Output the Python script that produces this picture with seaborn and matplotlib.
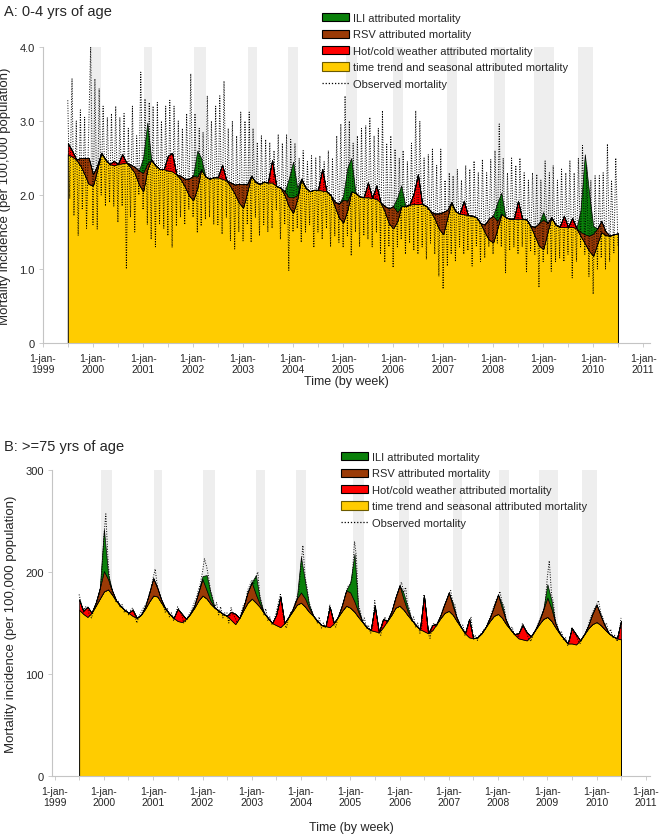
import numpy as np
import pandas as pd
import matplotlib
matplotlib.use("Agg")
import matplotlib.pyplot as plt
from matplotlib.patches import Patch
from matplotlib.lines import Line2D
import seaborn as sns

sns.set_style("white")
plt.rcParams['font.family'] = ['Liberation Sans', 'DejaVu Sans']

# ---------------- time axes ----------------
months = pd.date_range("1999-07-01", "2010-07-01", freq="MS")        # components (monthly)
halfmonths = pd.date_range("1999-07-01", "2010-07-01", freq="SMS")   # observed (semi-monthly)

# ---------------- Panel A: 0-4 yrs (per 100,000) ----------------
a_trend = [
    2.55, 2.52, 2.48, 2.40, 2.28, 2.15, 2.13, 2.35, 2.57, 2.48, 2.42, 2.40,
    2.42, 2.43, 2.44, 2.38, 2.30, 2.15, 2.05, 2.35, 2.48, 2.40, 2.35, 2.35,
    2.33, 2.32, 2.28, 2.22, 2.12, 2.00, 1.93, 2.10, 2.35, 2.25, 2.22, 2.24,
    2.24, 2.22, 2.20, 2.12, 2.02, 1.90, 1.83, 2.05, 2.26, 2.18, 2.15, 2.18,
    2.17, 2.17, 2.12, 2.10, 2.00, 1.85, 1.76, 1.95, 2.22, 2.10, 2.05, 2.07,
    2.07, 2.06, 2.05, 2.00, 1.85, 1.70, 1.63, 1.80, 2.05, 2.03, 1.98, 1.97,
    1.97, 1.96, 1.95, 1.90, 1.78, 1.62, 1.55, 1.65, 1.85, 1.85, 1.87, 1.88,
    1.88, 1.88, 1.85, 1.78, 1.68, 1.55, 1.47, 1.70, 1.90, 1.78, 1.75, 1.74,
    1.73, 1.72, 1.70, 1.62, 1.50, 1.40, 1.36, 1.55, 1.75, 1.70, 1.68, 1.68,
    1.68, 1.68, 1.67, 1.58, 1.45, 1.32, 1.27, 1.50, 1.70, 1.60, 1.57, 1.57,
    1.57, 1.57, 1.55, 1.45, 1.35, 1.25, 1.18, 1.35, 1.50, 1.46, 1.45, 1.47,
    1.48]
a_weather = [
    0.15, 0.08, 0, 0, 0, 0, 0, 0, 0, 0, 0, 0.06,
    0, 0.12, 0, 0, 0, 0, 0, 0, 0, 0, 0, 0,
    0.20, 0.25, 0, 0, 0, 0, 0, 0, 0, 0, 0, 0,
    0, 0.19, 0, 0, 0, 0, 0, 0, 0, 0, 0, 0,
    0, 0.30, 0, 0, 0, 0, 0, 0, 0, 0, 0, 0,
    0, 0.29, 0, 0, 0, 0, 0, 0, 0, 0, 0, 0,
    0.20, 0, 0.18, 0, 0, 0, 0, 0, 0, 0, 0, 0.15,
    0.40, 0, 0, 0, 0, 0, 0, 0, 0, 0, 0, 0.18,
    0, 0, 0, 0, 0, 0, 0, 0, 0, 0, 0, 0,
    0.24, 0, 0, 0, 0, 0, 0, 0, 0, 0, 0, 0.15,
    0, 0.12, 0, 0, 0, 0, 0, 0, 0, 0, 0, 0,
    0]
a_rsv = [
    0, 0, 0, 0.10, 0.22, 0.35, 0.15, 0.05, 0, 0, 0, 0,
    0, 0, 0, 0.03, 0.08, 0.18, 0.25, 0.08, 0, 0, 0, 0,
    0, 0, 0, 0.04, 0.10, 0.22, 0.33, 0.15, 0, 0, 0, 0,
    0, 0, 0, 0.05, 0.12, 0.25, 0.32, 0.10, 0, 0, 0, 0,
    0, 0, 0, 0, 0.05, 0.12, 0.21, 0.05, 0, 0, 0, 0,
    0, 0, 0, 0, 0.06, 0.18, 0.31, 0.12, 0, 0, 0, 0,
    0, 0, 0, 0, 0.07, 0.20, 0.30, 0.12, 0, 0, 0, 0,
    0, 0, 0, 0, 0.07, 0.20, 0.30, 0.10, 0, 0, 0, 0,
    0, 0, 0, 0, 0.10, 0.28, 0.36, 0.10, 0, 0, 0, 0,
    0, 0, 0, 0, 0.12, 0.30, 0.40, 0.12, 0, 0, 0, 0,
    0, 0, 0, 0.05, 0.12, 0.20, 0.30, 0.20, 0.15, 0.05, 0, 0,
    0]
a_ili = [
    0, 0, 0, 0, 0, 0, 0, 0, 0, 0, 0, 0,
    0, 0, 0, 0, 0, 0, 0.20, 0.55, 0, 0, 0, 0,
    0, 0, 0, 0, 0, 0, 0, 0.35, 0.15, 0, 0, 0,
    0, 0, 0, 0, 0, 0, 0, 0, 0, 0, 0, 0,
    0, 0, 0, 0, 0, 0.25, 0.48, 0.10, 0, 0, 0, 0,
    0, 0, 0, 0, 0, 0, 0.05, 0.45, 0.45, 0, 0, 0,
    0, 0, 0, 0, 0, 0, 0, 0.20, 0.28, 0, 0, 0,
    0, 0, 0, 0, 0, 0, 0, 0, 0, 0, 0, 0,
    0, 0, 0, 0, 0, 0, 0, 0.25, 0.28, 0, 0, 0,
    0, 0, 0, 0, 0, 0, 0.10, 0, 0, 0, 0, 0,
    0, 0, 0, 0.30, 1.08, 0.60, 0.10, 0, 0, 0, 0, 0,
    0]
a_observed = [
    3.28, 1.95, 3.57, 1.72, 3.00, 1.45, 3.15, 1.80, 3.05, 1.55, 2.90, 4.00,
    1.60, 3.57, 1.54, 3.44, 2.00, 3.20, 1.85, 3.05, 1.90, 3.10, 1.85, 3.20,
    1.63, 3.05, 1.85, 3.10, 1.00, 2.90, 1.70, 3.20, 1.50, 2.80, 2.00, 3.66,
    1.80, 3.30, 1.60, 3.25, 1.40, 3.20, 1.30, 3.25, 1.60, 3.00, 1.55, 3.20,
    1.45, 3.28, 1.29, 3.20, 1.58, 3.00, 1.70, 2.90, 1.60, 3.10, 1.81, 3.64,
    1.70, 3.10, 1.49, 2.90, 1.58, 2.85, 1.67, 3.34, 1.70, 3.00, 1.60, 3.20,
    1.60, 3.34, 1.47, 3.54, 1.70, 2.90, 1.38, 3.00, 1.27, 2.80, 1.50, 3.12,
    1.38, 3.00, 1.60, 3.12, 1.36, 2.90, 1.70, 2.71, 1.45, 2.80, 1.60, 2.75,
    1.50, 2.71, 1.55, 2.60, 1.80, 2.82, 1.40, 2.70, 1.60, 2.82, 0.98, 2.75,
    1.50, 2.70, 1.55, 2.50, 1.36, 2.60, 1.50, 2.45, 1.60, 2.53, 1.29, 2.50,
    1.50, 2.53, 1.40, 2.45, 1.55, 2.60, 1.30, 2.50, 1.45, 2.80, 1.36, 2.96,
    1.29, 3.34, 1.45, 3.00, 1.18, 2.70, 1.50, 2.80, 1.30, 2.90, 1.45, 2.94,
    1.40, 3.05, 1.30, 2.80, 1.50, 2.90, 1.20, 3.14, 1.09, 2.70, 1.30, 2.80,
    1.02, 2.62, 1.30, 2.50, 1.40, 2.60, 1.20, 2.45, 1.35, 2.70, 1.25, 3.14,
    1.20, 3.00, 1.30, 2.50, 1.13, 2.55, 1.35, 2.62, 1.20, 2.40, 0.90, 2.62,
    0.73, 2.20, 1.04, 2.30, 1.20, 2.26, 1.10, 2.35, 1.30, 2.20, 1.20, 2.40,
    1.25, 2.35, 1.04, 2.46, 1.30, 2.30, 1.10, 2.48, 1.15, 2.30, 1.30, 2.48,
    1.20, 2.60, 1.35, 2.96, 1.30, 2.50, 0.95, 2.30, 1.25, 2.50, 1.30, 2.40,
    1.20, 2.50, 1.30, 2.30, 0.95, 2.20, 1.25, 2.30, 1.20, 2.28, 0.75, 2.20,
    1.10, 2.46, 1.20, 2.30, 0.97, 2.40, 1.10, 2.20, 1.15, 2.35, 1.10, 2.30,
    1.20, 2.46, 0.88, 2.30, 1.10, 2.50, 1.30, 2.67, 1.20, 2.40, 0.90, 2.20,
    0.66, 2.26, 1.00, 2.26, 1.15, 2.30, 1.00, 2.69, 1.10, 2.20, 1.22, 2.50,
    1.30]

# ---------------- Panel B: >=75 yrs (per 100,000) ----------------
b_trend = [
    163, 159, 156, 160, 167, 174, 181, 183, 178, 172, 167, 163,
    160, 157, 155, 158, 164, 171, 177, 176, 170, 164, 159, 155,
    152, 151, 154, 159, 165, 172, 177, 174, 169, 165, 162, 159,
    157, 153, 149, 155, 163, 170, 174, 170, 166, 160, 155, 150,
    148, 146, 150, 156, 162, 168, 170, 166, 161, 157, 152, 148,
    147, 146, 150, 156, 162, 167, 165, 161, 156, 151, 146, 143,
    142, 141, 146, 152, 158, 165, 167, 163, 158, 153, 148, 144,
    142, 140, 143, 149, 155, 160, 162, 158, 152, 146, 140, 136,
    135, 136, 140, 146, 152, 157, 159, 155, 149, 144, 139, 135,
    134, 133, 137, 143, 149, 154, 156, 152, 146, 140, 135, 130,
    130, 129, 133, 139, 145, 149, 151, 148, 144, 140, 137, 135,
    134]
b_weather = [
    10, 3, 10, 0, 0, 0, 0, 0, 0, 0, 0, 0,
    0, 6, 0, 0, 0, 0, 0, 0, 0, 0, 0, 0,
    12, 8, 0, 0, 0, 0, 0, 0, 0, 0, 0, 0,
    0, 8, 10, 0, 0, 0, 0, 0, 0, 0, 0, 0,
    10, 30, 0, 0, 0, 0, 0, 0, 0, 0, 0, 0,
    0, 20, 0, 0, 0, 0, 0, 0, 0, 0, 0, 0,
    25, 0, 8, 0, 0, 0, 0, 0, 0, 0, 0, 0,
    35, 0, 5, 0, 0, 0, 0, 0, 0, 0, 0, 18,
    0, 0, 0, 0, 0, 0, 0, 0, 0, 0, 0, 5,
    14, 8, 0, 0, 0, 0, 0, 0, 0, 0, 0, 0,
    15, 10, 0, 0, 0, 0, 0, 0, 0, 0, 0, 0,
    18]
b_rsv = [
    0, 0, 0, 0, 3, 10, 20, 10, 4, 0, 0, 0,
    0, 0, 0, 0, 2, 8, 17, 8, 3, 0, 0, 0,
    0, 0, 0, 0, 2, 8, 16, 8, 3, 0, 0, 0,
    0, 0, 0, 0, 3, 10, 16, 8, 3, 0, 0, 0,
    0, 0, 0, 0, 2, 6, 10, 8, 4, 0, 0, 0,
    0, 0, 0, 0, 6, 15, 15, 10, 5, 0, 0, 0,
    0, 0, 0, 0, 3, 10, 20, 10, 4, 0, 0, 0,
    0, 0, 0, 0, 3, 9, 18, 8, 3, 0, 0, 0,
    0, 0, 0, 0, 3, 9, 19, 9, 3, 0, 0, 0,
    0, 0, 0, 0, 3, 9, 19, 12, 4, 0, 0, 0,
    0, 0, 0, 0, 3, 10, 17, 9, 4, 0, 0, 0,
    0]
b_ili = [
    0, 0, 0, 0, 0, 0, 41, 5, 0, 0, 0, 0,
    0, 0, 0, 0, 0, 0, 0, 0, 0, 0, 0, 0,
    0, 0, 0, 0, 0, 0, 3, 15, 8, 0, 0, 0,
    0, 0, 0, 0, 0, 0, 0, 19, 5, 0, 0, 0,
    0, 0, 0, 0, 0, 0, 35, 16, 3, 0, 0, 0,
    0, 0, 0, 0, 0, 0, 10, 47, 3, 0, 0, 0,
    0, 0, 0, 0, 0, 0, 0, 6, 4, 0, 0, 0,
    0, 0, 0, 0, 0, 0, 0, 3, 0, 0, 0, 0,
    0, 0, 0, 0, 0, 0, 0, 4, 0, 0, 0, 0,
    0, 0, 0, 0, 0, 0, 13, 8, 0, 0, 0, 0,
    0, 0, 0, 0, 0, 0, 0, 0, 0, 0, 0, 0,
    0]
b_observed = [
    178, 170, 160, 166, 165, 158, 155, 162, 168, 172, 180, 195,
    235, 257, 210, 188, 180, 176, 170, 172, 165, 168, 160, 163,
    158, 162, 165, 158, 150, 156, 160, 164, 167, 170, 178, 184,
    195, 203, 185, 180, 172, 168, 160, 165, 156, 160, 152, 158,
    166, 162, 158, 150, 152, 156, 160, 164, 170, 174, 182, 188,
    200, 213, 205, 195, 182, 176, 165, 170, 158, 166, 155, 160,
    160, 150, 165, 158, 155, 150, 155, 160, 168, 170, 182, 186,
    192, 188, 195, 200, 178, 170, 158, 164, 152, 156, 148, 152,
    160, 168, 178, 165, 148, 145, 155, 160, 162, 168, 175, 180,
    205, 226, 195, 185, 170, 165, 158, 155, 150, 156, 145, 150,
    145, 150, 168, 160, 148, 146, 155, 160, 165, 172, 180, 186,
    188, 195, 230, 215, 168, 162, 150, 155, 145, 148, 140, 145,
    172, 158, 140, 138, 152, 156, 150, 156, 160, 165, 172, 178,
    185, 190, 180, 185, 168, 164, 152, 156, 146, 150, 140, 146,
    178, 165, 140, 135, 148, 150, 146, 152, 156, 162, 168, 172,
    178, 182, 170, 168, 156, 152, 145, 148, 138, 142, 150, 156,
    135, 138, 133, 138, 140, 143, 145, 150, 155, 160, 166, 172,
    176, 181, 170, 166, 154, 150, 144, 146, 138, 140, 136, 142,
    150, 145, 140, 135, 132, 138, 142, 146, 152, 156, 162, 168,
    195, 211, 178, 170, 152, 148, 140, 142, 133, 136, 128, 132,
    146, 140, 138, 133, 130, 135, 138, 142, 148, 154, 160, 164,
    168, 172, 160, 156, 148, 150, 140, 144, 136, 138, 132, 136,
    155]

# influenza epidemic periods (grey shading)
epi_start = ["1999-12-10", "2001-01-05", "2002-01-05", "2003-02-05", "2003-11-25",
             "2005-01-20", "2005-12-28", "2007-02-01", "2008-01-10", "2008-10-28",
             "2009-09-15"]
epi_end = ["2000-03-01", "2001-03-10", "2002-04-05", "2003-04-10", "2004-02-05",
           "2005-04-10", "2006-03-15", "2007-04-10", "2008-03-25", "2009-03-20",
           "2010-01-01"]

years = list(range(1999, 2012))
tick_labels = [f"1-jan-\n{y}" for y in years]

legend_labels = ["ILI attributed mortality", "RSV attributed mortality",
                 "Hot/cold weather attributed mortality",
                 "time trend and seasonal attributed mortality",
                 "Observed mortality"]

C_ILI = "#0a800a"
C_RSV = "#9a3a06"
C_HOT = "#ff0000"
C_TREND = "#ffcc00"
C_BAND = "#eeeeee"
C_SPINE = "#c4c4c4"

W, H = 662, 837
fig = plt.figure(figsize=(W / 100, H / 100), dpi=100)


def fr(x0, y_top, x1, y_bot):
    return [x0 / W, 1 - y_bot / H, (x1 - x0) / W, (y_bot - y_top) / H]


def panel(ax, trend, weather, rsv, ili, observed, xlim, ylim, yticks, ytl):
    trend = np.asarray(trend, float)
    t1 = trend + np.asarray(weather, float)
    t2 = t1 + np.asarray(rsv, float)
    t3 = t2 + np.asarray(ili, float)
    for s, e in zip(epi_start, epi_end):
        ax.axvspan(pd.Timestamp(s), pd.Timestamp(e), color=C_BAND, lw=0, zorder=0)
    ax.fill_between(months, 0, trend, facecolor=C_TREND, edgecolor="black", lw=0.7, zorder=2)
    ax.fill_between(months, trend, t1, facecolor=C_HOT, edgecolor="black", lw=0.5, zorder=3)
    ax.fill_between(months, t1, t2, facecolor=C_RSV, edgecolor="black", lw=0.5, zorder=3)
    ax.fill_between(months, t2, t3, facecolor=C_ILI, edgecolor="black", lw=0.5, zorder=3)
    obs_df = pd.DataFrame({"date": halfmonths, "obs": observed})
    sns.lineplot(data=obs_df, x="date", y="obs", ax=ax, color="black", lw=0.7,
                 linestyle=(0, (1.0, 1.6)), zorder=5, legend=False)
    ax.set_xlim(pd.Timestamp(xlim[0]), pd.Timestamp(xlim[1]))
    ax.set_ylim(*ylim)
    ax.set_xticks([pd.Timestamp(f"{y}-01-01") for y in years])
    ax.set_xticklabels(tick_labels, fontsize=7.5, linespacing=1.15)
    ax.set_xticks([pd.Timestamp(f"{y}-07-01") for y in range(1999, 2011)], minor=True)
    ax.set_yticks(yticks)
    ax.set_yticklabels(ytl, fontsize=8)
    ax.tick_params(axis="both", which="both", direction="out", length=3, width=0.6,
                   color=C_SPINE, bottom=True, left=True, pad=3)
    ax.tick_params(axis="x", which="major", pad=4)
    for sp in ["top", "right"]:
        ax.spines[sp].set_visible(False)
    for sp in ["left", "bottom"]:
        ax.spines[sp].set_color(C_SPINE)
        ax.spines[sp].set_linewidth(0.8)
    ax.set_xlabel("Time (by week)", fontsize=9)
    ax.set_ylabel("Mortality incidence (per 100,000 population)", fontsize=9.5)
    ax.grid(False)


def add_legend(ax, x, y):
    handles = [Patch(facecolor=C_ILI, edgecolor="black", lw=0.8),
               Patch(facecolor=C_RSV, edgecolor="black", lw=0.8),
               Patch(facecolor=C_HOT, edgecolor="black", lw=0.8),
               Patch(facecolor=C_TREND, edgecolor="#6b5a00", lw=0.8),
               Line2D([], [], color="black", lw=0.9, linestyle=(0, (1.0, 1.5)))]
    ax.legend(handles, legend_labels, loc="upper left",
              bbox_to_anchor=(x / W, 1 - y / H), bbox_transform=fig.transFigure,
              frameon=False, fontsize=8, handlelength=2.4, handleheight=0.75,
              handletextpad=0.4, labelspacing=0.58, borderpad=0, borderaxespad=0)


# Panel A
axA = fig.add_axes(fr(43, 48, 650, 344))
panel(axA, a_trend, a_weather, a_rsv, a_ili, a_observed,
      ("1999-01-01", "2011-02-20"), (0, 4.0), [0, 1, 2, 3, 4],
      ["0", "1.0", "2.0", "3.0", "4.0"])
axA.xaxis.labelpad = 1
axA.yaxis.labelpad = 6
add_legend(axA, 322, 14)
fig.text(4 / W, 1 - 12 / H, "A: 0-4 yrs of age", fontsize=10.5, va="center", ha="left")

# Panel B
axB = fig.add_axes(fr(52, 471, 650, 777))
panel(axB, b_trend, b_weather, b_rsv, b_ili, b_observed,
      ("1998-12-12", "2011-02-01"), (0, 300), [0, 100, 200, 300],
      ["0", "100", "200", "300"])
axB.xaxis.labelpad = 10
axB.yaxis.labelpad = 6
add_legend(axB, 341, 453)
fig.text(4 / W, 1 - 447 / H, "B: >=75 yrs of age", fontsize=10.5, va="center", ha="left")

fig.savefig("out.png", dpi=100)
